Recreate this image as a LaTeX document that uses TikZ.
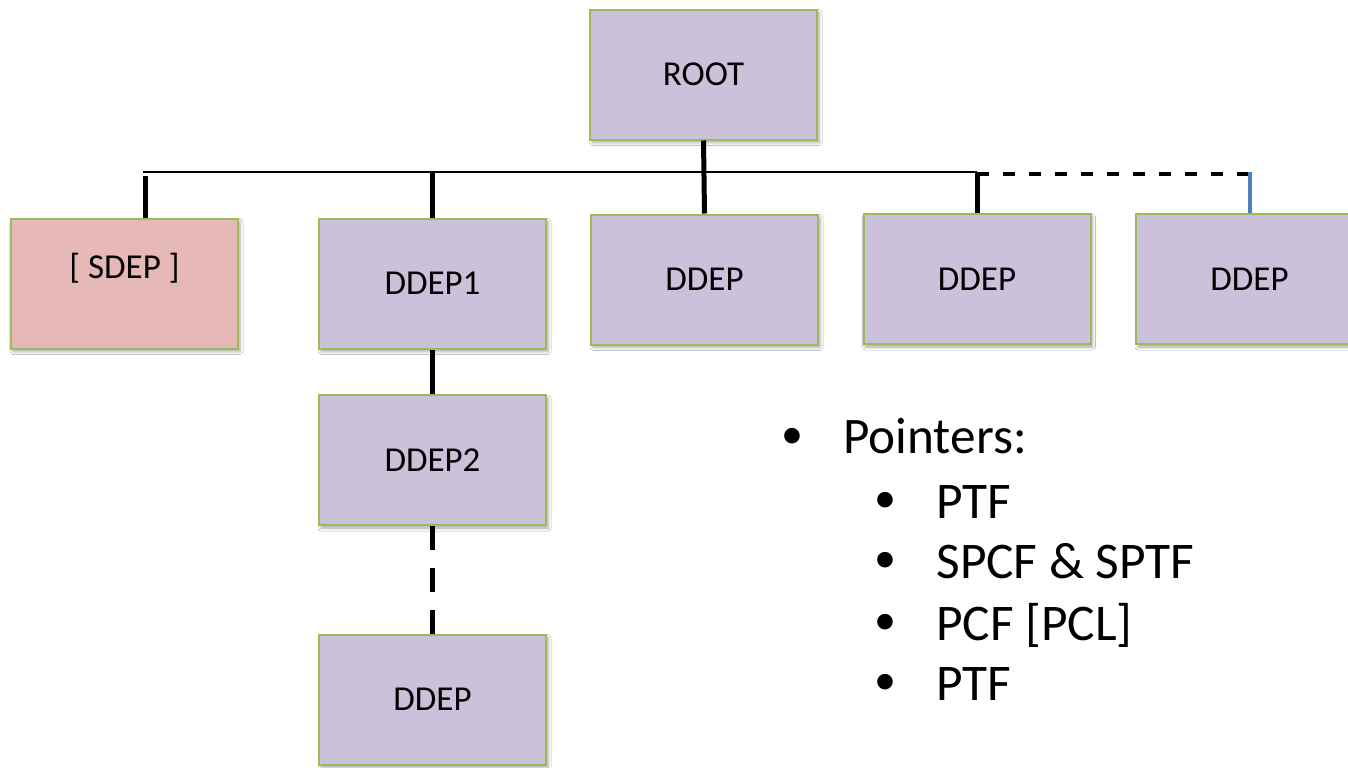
\documentclass[tikz,border=0pt]{standalone}
\usepackage{fontspec}
\setmainfont{Carlito}
\usetikzlibrary{shadows.blur}
\definecolor{boxlilac}{HTML}{CCC1DA}
\definecolor{boxrose}{HTML}{E6B9B8}
\definecolor{boxedge}{HTML}{9BBB59}
\definecolor{linkblue}{HTML}{4F81BD}
\tikzset{
  treebox/.style={draw=boxedge, line width=1pt, fill=boxlilac,
    minimum width=113.5pt, minimum height=65pt, inner sep=0pt,
    font=\fontsize{17.5pt}{21pt}\selectfont,
    blur shadow={shadow xshift=1pt, shadow yshift=-1.5pt,
      shadow blur radius=1.5pt, shadow opacity=35}},
  staticbox/.style={treebox, fill=boxrose},
  bus/.style={line width=1pt, black},
  stub/.style={line width=2.5pt, black},
  dashlink/.style={line width=2pt, black, dash pattern=on 6pt off 7pt},
  chainlink/.style={line width=2.5pt, black, dash pattern=on 12pt off 9pt},
  bluestub/.style={line width=2pt, linkblue},
  toplist/.style={anchor=base west, inner sep=0pt, font=\fontsize{25.6pt}{30pt}\selectfont},
  sublist/.style={anchor=base west, inner sep=0pt, font=\fontsize{25.7pt}{30pt}\selectfont},
  dot/.style={inner sep=0pt, font=\fontsize{22pt}{26pt}\selectfont}
}
\begin{document}
\begin{tikzpicture}[x=0.5pt, y=-0.5pt]
  \clip (0,0) rectangle (1348,767);
  \fill[white] (0,0) rectangle (1348,767);

  % tree nodes
  \node[treebox] (root) at (703.5,74.5) {ROOT};
  \node[staticbox, text depth=0pt] (sdep) at (124.5,283.5) {\raisebox{18pt}{[ SDEP ]}};
  \node[treebox] (ddep1) at (432.5,283.5) {DDEP1};
  \node[treebox] (ddepA) at (704.5,279.5) {DDEP};
  \node[treebox] (ddepB) at (977,279) {DDEP};
  \node[treebox] (ddepC) at (1249.5,279) {DDEP};
  \node[treebox] (ddep2) at (432.5,460) {DDEP2};
  \node[treebox] (ddep3) at (432.5,699.5) {DDEP};

  % horizontal bus under the root
  \coordinate (b0) at (143,172);
  \coordinate (b1) at (ddepB.north |- b0);
  \draw[bus] (b0) -- (b1);

  % drops from the bus
  \coordinate (s0) at (145,176);
  \draw[stub] (s0) -- (s0 |- sdep.north);
  \draw[stub] (ddep1.north |- b0) -- (ddep1.north);
  \draw[stub] (root.south) -- (ddepA.north);
  \draw[stub] (b1) -- (ddepB.north);

  % dashed extension to the last node
  \coordinate (d0) at (977,174);
  \coordinate (d1) at (ddepC.north |- d0);
  \draw[dashlink] (d0) -- (d1);
  \draw[bluestub] ([yshift=1pt]d1) -- (ddepC.north);

  % vertical chain
  \draw[stub] (ddep1.south) -- (ddep2.north);
  \draw[chainlink] (ddep2.south) -- (ddep3.north);

  % pointer list
  \node[dot] (m0) at (792,438) {•};
  \node[toplist] (p0) at (843,453) {Pointers:};
  \node[dot] (m1) at (885,502) {•};
  \node[sublist] (p1) at (936,518) {PTF};
  \node[dot] (m2) at (885,562) {•};
  \node[sublist] (p2) at (936,578) {SPCF \& SPTF};
  \node[dot] (m3) at (885,624) {•};
  \node[sublist] (p3) at (936,640) {PCF [PCL]};
  \node[dot] (m4) at (885,684) {•};
  \node[sublist] (p4) at (936,700) {PTF};
\end{tikzpicture}
\end{document}
